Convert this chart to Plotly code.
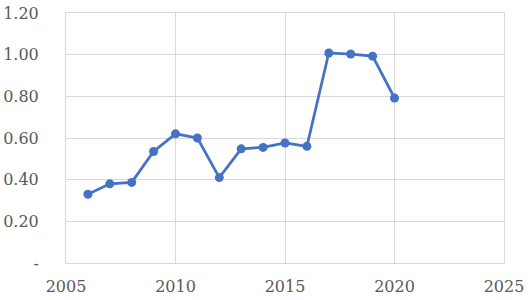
import plotly.graph_objects as go

years = [2006, 2007, 2008, 2009, 2010, 2011, 2012, 2013, 2014, 2015, 2016, 2017, 2018, 2019, 2020]
values = [0.33, 0.38, 0.387, 0.535, 0.62, 0.60, 0.41, 0.548, 0.555, 0.576, 0.56, 1.008, 1.003, 0.993, 0.792]

x_ticks = [2005, 2010, 2015, 2020, 2025]
y_ticks = [0, 0.2, 0.4, 0.6, 0.8, 1.0, 1.2]
y_labels = ["-", "0.20", "0.40", "0.60", "0.80", "1.00", "1.20"]

fig = go.Figure()
fig.add_trace(go.Scatter(
    x=years, y=values, mode="lines+markers",
    line=dict(color="#4472C4", width=2.75),
    marker=dict(color="#4472C4", size=9),
    showlegend=False,
))

font = dict(family="DejaVu Serif", size=16, color="#595959")
fig.update_layout(
    width=528, height=300,
    margin=dict(l=66, r=24, t=13, b=37, autoexpand=False),
    paper_bgcolor="white", plot_bgcolor="white",
    font=font,
)
fig.update_xaxes(
    range=[2005, 2025], tickvals=x_ticks, ticktext=[str(t) for t in x_ticks],
    showgrid=True, gridcolor="#d9d9d9", gridwidth=1,
    showline=True, linecolor="#d9d9d9", linewidth=1, mirror=True,
    zeroline=False, ticks="outside", ticklen=9, tickcolor="white",
    automargin=False, tickfont=font,
)
fig.update_yaxes(
    range=[0, 1.2], tickvals=y_ticks, ticktext=y_labels,
    showgrid=True, gridcolor="#d9d9d9", gridwidth=1,
    showline=True, linecolor="#d9d9d9", linewidth=1, mirror=True,
    zeroline=False, ticks="outside", ticklen=23, tickcolor="white",
    automargin=False, tickfont=font,
)
fig.write_html("out.html", config={"displayModeBar": False},
               post_script="document.body.style.margin='0';")
